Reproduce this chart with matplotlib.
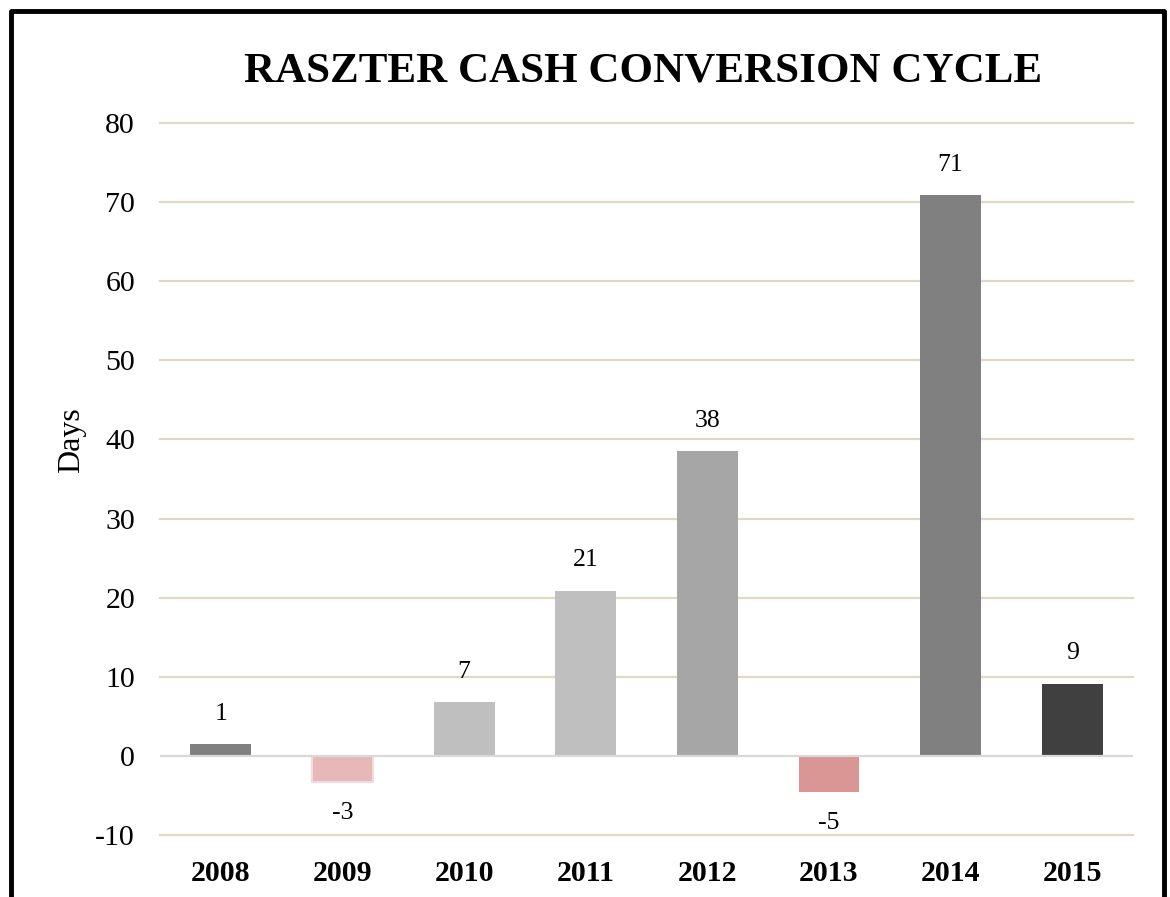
import matplotlib
matplotlib.use("Agg")
import matplotlib.pyplot as plt
from matplotlib.lines import Line2D

years = ["2008", "2009", "2010", "2011", "2012", "2013", "2014", "2015"]
days = [1.45, -3.35, 6.8, 20.9, 38.5, -4.6, 70.9, 9.1]
day_labels = ["1", "-3", "7", "21", "38", "-5", "71", "9"]
bar_colors = ["#808080", "#E6B8B7", "#BFBFBF", "#BFBFBF", "#A6A6A6",
              "#DA9694", "#808080", "#404040"]
y_ticks = [-10, 0, 10, 20, 30, 40, 50, 60, 70, 80]

plt.rcParams['font.family'] = ['Liberation Serif', 'DejaVu Serif']

fig = plt.figure(figsize=(11.7, 8.97), dpi=100)
ax = fig.add_axes([0.1368, 0.0691, 0.8316, 0.7938])

x = list(range(len(years)))
bars = ax.bar(x, days, width=0.5, color=bar_colors, zorder=2)
# 2009 bar has a faint lighter outline
bars[1].set_edgecolor("#F2DCDB")
bars[1].set_linewidth(1.5)

ax.set_xlim(-0.5, len(years) - 0.5)
ax.set_ylim(-10, 80)
ax.set_yticks(y_ticks)
ax.set_yticklabels([str(t) for t in y_ticks], fontsize=21.5)
ax.set_xticks(x)
ax.set_xticklabels(years, fontsize=21.5, fontweight='bold')
ax.tick_params(axis='both', length=0)
ax.tick_params(axis='y', pad=18)
ax.tick_params(axis='x', pad=18)

for s in ax.spines.values():
    s.set_visible(False)

for t in y_ticks:
    if t != 0:
        ax.axhline(t, color="#DDD9C3", linewidth=1.6, zorder=1, clip_on=False)
ax.axhline(0, color="#D9D9D9", linewidth=1.6, zorder=3)

for xi, v, lab in zip(x, days, day_labels):
    if v >= 0:
        ax.annotate(lab, (xi, v), xytext=(0, 14), textcoords='offset points',
                    ha='center', va='bottom', fontsize=18.5)
    else:
        ax.annotate(lab, (xi, v), xytext=(0, -14), textcoords='offset points',
                    ha='center', va='top', fontsize=18.5)

fig.text(72 / 1170, 1 - 440 / 897, "Days", rotation=90, ha='center',
         va='center', fontsize=23)
fig.text(643 / 1170, 1 - 71 / 897, "RASZTER CASH CONVERSION CYCLE",
         ha='center', va='center', fontsize=31, fontweight='bold')

# outer frame (left, top, right; open at the bottom)
frame = Line2D([11 / 1170, 11 / 1170, 1164 / 1170, 1164 / 1170],
               [0, 1 - 11 / 897, 1 - 11 / 897, 0],
               transform=fig.transFigure, color='black', linewidth=3.5)
fig.add_artist(frame)

fig.savefig("out.png", dpi=100, facecolor='white')
